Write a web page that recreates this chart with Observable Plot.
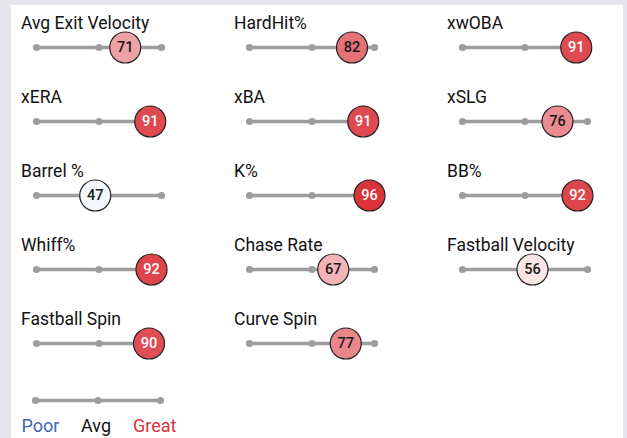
<!DOCTYPE html>
<html>
<head>
<meta charset="utf-8">
<script src="https://cdn.jsdelivr.net/npm/d3@7"></script>
<script src="https://cdn.jsdelivr.net/npm/@observablehq/plot@0.6"></script>
<style>
  html, body { margin: 0; padding: 0; }
  body { width: 627px; height: 438px; background: #e6e5eb; position: relative; overflow: hidden; font-family: Roboto, "Noto Sans", sans-serif; }
  #panel { position: absolute; left: 11px; top: 5px; width: 612px; height: 440px; background: #ffffff; }
  #charts { position: absolute; left: 0; top: 0; }
  #charts svg { display: block; background: transparent; }
</style>
</head>
<body>
<div id="panel"></div>
<div id="charts"></div>
<script>
// Metrics (reading order: left→right, top→bottom)
const metrics = ["Avg Exit Velocity", "HardHit%", "xwOBA",
                 "xERA", "xBA", "xSLG",
                 "Barrel %", "K%", "BB%",
                 "Whiff%", "Chase Rate", "Fastball Velocity",
                 "Fastball Spin", "Curve Spin"];
const percentiles = [71, 82, 91,
                     91, 91, 76,
                     47, 96, 92,
                     92, 67, 56,
                     90, 77];
const trackTicks = [0, 50, 100];
const legendLabels = ["Poor", "Avg", "Great"];
const legendColors = ["#3b69b8", "#111111", "#d9303b"];

const NCOL = 3;
const data = metrics.map((m, i) => ({metric: m, pct: percentiles[i], col: i % NCOL, row: Math.floor(i / NCOL)}));
const ticks = data.flatMap(d => trackTicks.map(t => ({...d, t})));

const color = d3.scaleLinear().domain([0, 50, 100]).range(["#3661ad", "#ffffff", "#d82129"]).interpolate(d3.interpolateRgb);

const font = "Roboto, 'Noto Sans', sans-serif";

const main = Plot.plot({
  width: 627,
  height: 384,
  marginLeft: 35,
  marginRight: 40,
  marginTop: 10,
  marginBottom: 4,
  style: {fontFamily: font, background: "transparent", overflow: "visible"},
  x: {domain: [0, 100], axis: null},
  y: {domain: [-1, 1], axis: null},
  fx: {axis: null, paddingInner: 0.4145, paddingOuter: 0},
  fy: {axis: null, padding: 0},
  marks: [
    Plot.ruleY(data, {fx: "col", fy: "row", y: () => 0, x1: () => 0, x2: () => 100, stroke: "#9d9d9d", strokeWidth: 3.5}),
    Plot.dot(ticks, {fx: "col", fy: "row", x: "t", y: () => 0, r: 3.6, fill: "#9d9d9d", stroke: "none"}),
    Plot.text(data, {fx: "col", fy: "row", x: () => 0, y: () => 0, text: "metric", dx: -15.5, dy: -19,
      textAnchor: "start", lineAnchor: "bottom", fontSize: 17.5, fill: "#111111"}),
    Plot.dot(data, {fx: "col", fy: "row", x: "pct", y: () => 0, r: 15.5, fill: d => color(d.pct), stroke: "#222", strokeWidth: 1.2}),
    Plot.text(data, {fx: "col", fy: "row", x: "pct", y: () => 0, text: d => String(d.pct), fontSize: 14.5,
      fill: d => d.pct >= 85 ? "#ffffff" : "#1a1a1a", fontWeight: 500})
  ]
});

const legendAnchors = ["start", "middle", "end"];
const legendDx = [-14, -2, 16];

const legend = Plot.plot({
  width: 627,
  height: 54,
  marginLeft: 35,
  marginRight: 467,
  marginTop: 0,
  marginBottom: 0,
  style: {fontFamily: font, background: "transparent", overflow: "visible"},
  x: {domain: [0, 100], axis: null},
  y: {domain: [-1, 1], range: [32, 0], axis: null},
  marks: [
    Plot.ruleY([0], {x1: () => 0, x2: () => 100, stroke: "#9d9d9d", strokeWidth: 3.5}),
    Plot.dot(trackTicks, {x: d => d, y: () => 0, r: 3.6, fill: "#9d9d9d"}),
    ...legendLabels.map((label, i) => Plot.text([label], {
      x: () => trackTicks[i], y: () => 0, text: d => d,
      textAnchor: legendAnchors[i], dx: legendDx[i], dy: 31, lineAnchor: "bottom",
      fontSize: 18, fill: legendColors[i]
    }))
  ]
});

document.getElementById("charts").append(main, legend);
</script>
</body>
</html>
